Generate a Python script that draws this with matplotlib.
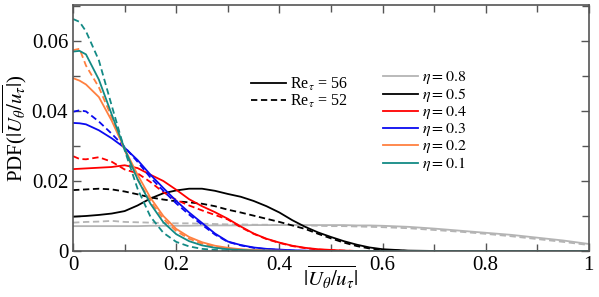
import matplotlib
matplotlib.use("Agg")
import matplotlib.pyplot as plt
from matplotlib.ticker import MultipleLocator, FuncFormatter
from matplotlib.lines import Line2D

plt.rcParams['font.family'] = ['Liberation Serif', 'DejaVu Serif']
plt.rcParams['mathtext.fontset'] = 'stix'

x = [0, 0.0125, 0.025, 0.05, 0.075, 0.1, 0.125, 0.15, 0.175, 0.2, 0.225, 0.25, 0.275, 0.3,
     0.325, 0.35, 0.375, 0.4, 0.425, 0.45, 0.475, 0.5, 0.525, 0.55, 0.575, 0.6, 0.65, 0.7,
     0.75, 0.8, 0.85, 0.9, 0.95, 1.0]

eta_labels = ['0.8', '0.5', '0.4', '0.3', '0.2', '0.1']
colors = ['#b4b4b4', '#000000', '#ff0000', '#0a0af0', '#ff8040', '#138a85']

eta08_56 = [0.0071, 0.0071, 0.0071, 0.0071, 0.0071, 0.0071, 0.0071, 0.0072, 0.0072, 0.0072, 0.0072,
            0.0073, 0.0073, 0.0073, 0.0073, 0.0074, 0.0074, 0.0074, 0.0074, 0.0074, 0.0074, 0.0074,
            0.0074, 0.0073, 0.0073, 0.0072, 0.0069, 0.0064, 0.0058, 0.0052, 0.0046, 0.0038, 0.0030,
            0.0020]
eta08_52 = [0.0081, 0.0082, 0.0083, 0.0084, 0.0086, 0.0083, 0.0082, 0.0081, 0.0080, 0.0079, 0.0079,
            0.0078, 0.0077, 0.0076, 0.0076, 0.0075, 0.0075, 0.0074, 0.0074, 0.0073, 0.0072, 0.0071,
            0.0071, 0.0070, 0.0069, 0.0068, 0.0065, 0.0060, 0.0055, 0.0049, 0.0042, 0.0034, 0.0026,
            0.0017]
eta05_56 = [0.0098, 0.0099, 0.0100, 0.0103, 0.0107, 0.0114, 0.0130, 0.0150, 0.0165, 0.0173, 0.0178,
            0.0178, 0.0172, 0.0163, 0.0155, 0.0143, 0.0128, 0.0110, 0.0088, 0.0069, 0.0053, 0.0040,
            0.0028, 0.0018, 0.0010, 0.0005, 0.0001, 0, 0, 0, 0, 0, 0, 0]
eta05_52 = [0.0174, 0.0175, 0.0176, 0.0178, 0.0176, 0.0170, 0.0162, 0.0153, 0.0147, 0.0142, 0.0139,
            0.0135, 0.0128, 0.0118, 0.0110, 0.0101, 0.0092, 0.0083, 0.0073, 0.0063, 0.0049, 0.0036,
            0.0024, 0.0014, 0.0007, 0.0003, 0, 0, 0, 0, 0, 0, 0, 0]
eta04_56 = [0.0234, 0.0235, 0.0236, 0.0238, 0.0240, 0.0245, 0.0237, 0.0218, 0.0200, 0.0175, 0.0148,
            0.0128, 0.0111, 0.0092, 0.0070, 0.0050, 0.0035, 0.0024, 0.0015, 0.0009, 0.0005, 0.0003,
            0.0001, 0, 0, 0, 0, 0, 0, 0, 0, 0, 0, 0]
eta04_52 = [0.0271, 0.0263, 0.0262, 0.0268, 0.0255, 0.0233, 0.0222, 0.0197, 0.0168, 0.0146, 0.0130,
            0.0116, 0.0103, 0.0090, 0.0068, 0.0049, 0.0034, 0.0023, 0.0014, 0.0008, 0.0004, 0.0002,
            0.0001, 0, 0, 0, 0, 0, 0, 0, 0, 0, 0, 0]
eta03_56 = [0.0366, 0.0365, 0.0362, 0.0345, 0.0322, 0.0295, 0.0260, 0.0218, 0.0180, 0.0143, 0.0110,
            0.0080, 0.0050, 0.0027, 0.0017, 0.0010, 0.0006, 0.0004, 0.0002, 0.0001, 0, 0,
            0, 0, 0, 0, 0, 0, 0, 0, 0, 0, 0, 0]
eta03_52 = [0.0398, 0.0402, 0.0399, 0.0370, 0.0335, 0.0297, 0.0255, 0.0210, 0.0172, 0.0136, 0.0104,
            0.0075, 0.0047, 0.0026, 0.0016, 0.0009, 0.0005, 0.0003, 0.0001, 0, 0, 0,
            0, 0, 0, 0, 0, 0, 0, 0, 0, 0, 0, 0]
eta02_56 = [0.0494, 0.0487, 0.0476, 0.0440, 0.0372, 0.0292, 0.0218, 0.0152, 0.0100, 0.0063, 0.0040,
            0.0025, 0.0015, 0.0009, 0.0005, 0.0003, 0.0001, 0.0001, 0, 0, 0, 0,
            0, 0, 0, 0, 0, 0, 0, 0, 0, 0, 0, 0]
eta02_52 = [0.0574, 0.0578, 0.0530, 0.0468, 0.0382, 0.0288, 0.0205, 0.0142, 0.0092, 0.0057, 0.0035,
            0.0021, 0.0012, 0.0007, 0.0004, 0.0002, 0.0001, 0, 0, 0, 0, 0,
            0, 0, 0, 0, 0, 0, 0, 0, 0, 0, 0, 0]
eta01_56 = [0.0570, 0.0572, 0.0562, 0.0490, 0.0390, 0.0292, 0.0205, 0.0135, 0.0082, 0.0048, 0.0028,
            0.0016, 0.0009, 0.0005, 0.0003, 0.0001, 0.0001, 0, 0, 0, 0, 0,
            0, 0, 0, 0, 0, 0, 0, 0, 0, 0, 0, 0]
eta01_52 = [0.0663, 0.0655, 0.0628, 0.0545, 0.0415, 0.0288, 0.0178, 0.0098, 0.0052, 0.0026, 0.0013,
            0.0006, 0.0003, 0.0001, 0, 0, 0, 0, 0, 0, 0, 0,
            0, 0, 0, 0, 0, 0, 0, 0, 0, 0, 0, 0]

series_56 = [eta08_56, eta05_56, eta04_56, eta03_56, eta02_56, eta01_56]
series_52 = [eta08_52, eta05_52, eta04_52, eta03_52, eta02_52, eta01_52]

fig = plt.figure(figsize=(5.99, 2.97), dpi=100)
ax = fig.add_axes([0.122, 0.155, 0.861, 0.828])

lw = 1.3
dash = (0, (3.5, 2))
for c, y56, y52 in zip(colors, series_56, series_52):
    ax.plot(x, y56, color=c, lw=lw, solid_joinstyle='round')
    ax.plot(x, y52, color=c, lw=lw, ls=dash)

ax.set_xlim(0, 1)
ax.set_ylim(0, 0.0703)
ax.xaxis.set_major_locator(MultipleLocator(0.2))
ax.xaxis.set_minor_locator(MultipleLocator(0.1))
ax.yaxis.set_major_locator(MultipleLocator(0.02))
ax.yaxis.set_minor_locator(MultipleLocator(0.01))
fmt = FuncFormatter(lambda v, p: '%g' % round(v, 4))
ax.xaxis.set_major_formatter(fmt)
ax.yaxis.set_major_formatter(fmt)
ax.tick_params(which='both', direction='in', top=True, right=True, color='#555555', labelsize=15)
ax.tick_params(which='major', length=6, width=1)
ax.tick_params(which='minor', length=5, width=1)
for s in ax.spines.values():
    s.set_color('#555555')
    s.set_linewidth(1.2)

ax.set_xlabel(r'$|\overline{U_\theta/u_\tau}|$', fontsize=15)
ax.xaxis.set_label_coords(0.5, -0.055)
ax.set_ylabel(r'PDF($|\overline{U_\theta/u_\tau}|$)', fontsize=15, labelpad=2)

h1 = [Line2D([], [], color='black', lw=lw), Line2D([], [], color='black', lw=lw, ls=dash)]
leg1 = ax.legend(h1, [r'Re$_\tau$ = 56', r'Re$_\tau$ = 52'], loc='upper left',
                 bbox_to_anchor=(0.33, 0.746), frameon=False, fontsize=11.5,
                 handlelength=2.2, handletextpad=0.25, labelspacing=0.0, borderpad=0.0)
ax.add_artist(leg1)

h2 = [Line2D([], [], color=c, lw=lw) for c in colors]
ax.legend(h2, [r'$\eta = %s$' % e for e in eta_labels], loc='upper left',
          bbox_to_anchor=(0.586, 0.772), frameon=False, fontsize=11.5,
          handlelength=2.2, handletextpad=0.25, labelspacing=0.0, borderpad=0.0)

fig.savefig('out.png', dpi=100)
